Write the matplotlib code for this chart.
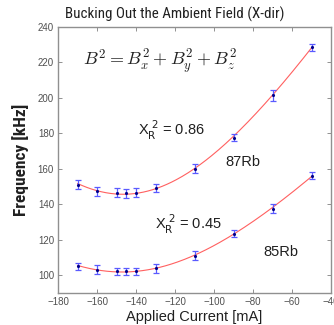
import numpy as np
import matplotlib
matplotlib.use("Agg")
import matplotlib.pyplot as plt

current = [-170, -160, -150, -145, -140, -130, -110, -90, -70, -50]
rb87 = [151, 147.3, 146.5, 146.3, 146.5, 149.2, 160, 177.5, 201.4, 228.6]
rb85 = [105, 103, 102.3, 102.3, 102.3, 104, 111, 123.3, 137.6, 156]
err87 = [2.5, 2.5, 2.5, 2.5, 2.5, 2.0, 2.5, 2.0, 3.0, 2.0]
err85 = [2.0, 2.5, 2.0, 2.0, 2.0, 2.5, 2.5, 2.0, 2.5, 2.0]

xticks = [-180, -160, -140, -120, -100, -80, -60, -40]
yticks = [100, 120, 140, 160, 180, 200, 220, 240]

narrow = ['Roboto Condensed', 'DejaVu Sans Condensed', 'Liberation Sans Narrow', 'Liberation Sans']
plt.rcParams['font.family'] = ['Liberation Sans', 'DejaVu Sans']
fig = plt.figure(figsize=(3.34, 3.25), dpi=100)
ax = fig.add_axes([0.174, 0.0985, 0.817, 0.8185])

xs = np.linspace(-170, -50, 200)
for vals, errs in [(rb87, err87), (rb85, err85)]:
    c = np.polyfit(current, np.array(vals) ** 2, 2)
    ax.plot(xs, np.sqrt(np.polyval(c, xs)), color='#ff6060', lw=0.8, zorder=1)
    ax.errorbar(current, vals, yerr=errs, fmt='.', color='#00008b', ms=2.5,
                ecolor='#5a5aff', elinewidth=0.9, capsize=2.5, capthick=0.9, zorder=2)

ax.set_xlim(-180, -40)
ax.set_ylim(90, 240)
ax.set_xticks(xticks)
ax.set_yticks(yticks)
ax.tick_params(direction='in', top=True, right=True, length=3, width=0.6,
               color='#808080', labelsize=7, labelcolor='#505050', pad=3)
for s in ax.spines.values():
    s.set_color('#909090')
    s.set_linewidth(1.0)

fig.text(0.522, 0.955, 'Bucking Out the Ambient Field (X-dir)', ha='center', va='center',
         fontsize=10.8, family=narrow, color='#202020')
ax.set_xlabel('Applied Current [mA]', fontsize=10.5, labelpad=2, color='#202020')
ax.set_ylabel('Frequency [kHz]', fontsize=12.5, fontweight='bold', labelpad=1, color='#202020',
              family=narrow)
ax.yaxis.set_label_coords(-0.105, 0.5)

ax.text(0.09, 0.87, r'$B^2 = B_x^2 + B_y^2 + B_z^2$', transform=ax.transAxes,
        fontsize=13, math_fontfamily='cm', va='center', color='#202020')
ax.text(-139, 181.5, r'X$_{\rm R}^{\ 2}$ = 0.86', fontsize=10.5, va='center', color='#202020')
ax.text(-130.5, 128.8, r'X$_{\rm R}^{\ 2}$ = 0.45', fontsize=10.5, va='center', color='#202020')
ax.text(-94, 164, '87Rb', fontsize=10.5, va='center', color='#202020')
ax.text(-74.5, 113, '85Rb', fontsize=10.5, va='center', color='#202020')

fig.savefig('out.png', dpi=100)
